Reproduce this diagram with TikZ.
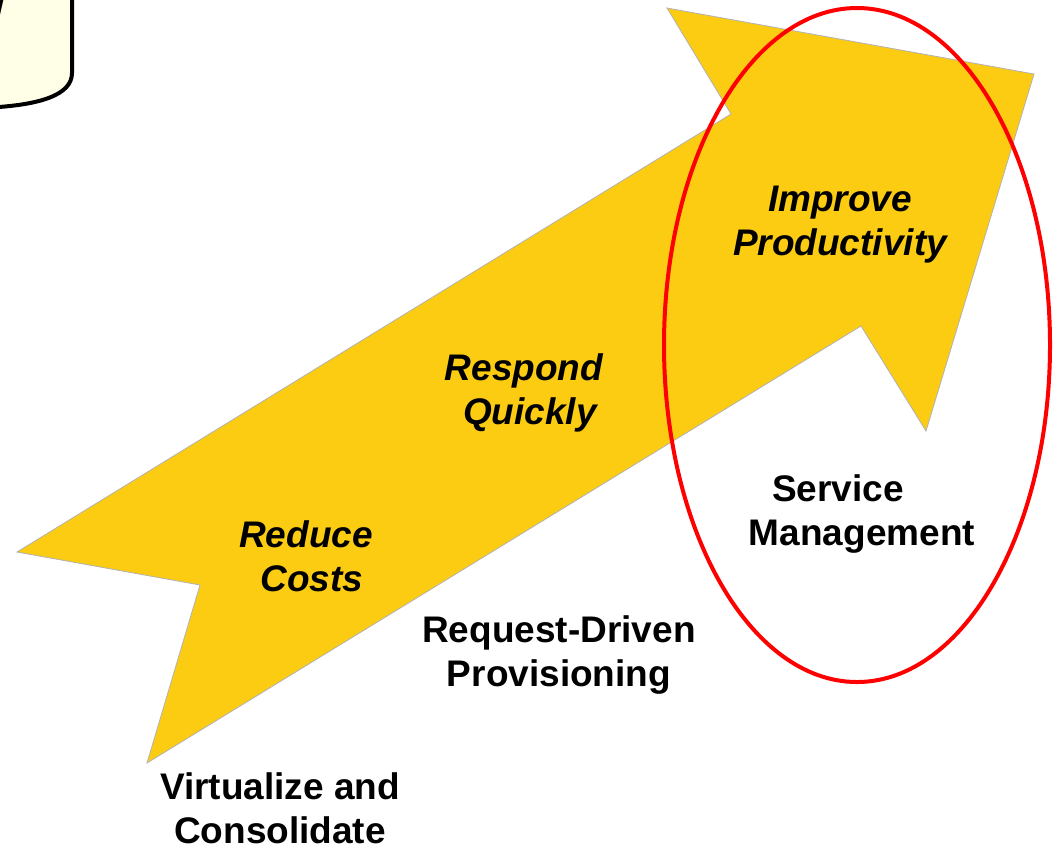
\documentclass[tikz,border=0pt]{standalone}
\usepackage{fontspec}
\setmainfont{Liberation Sans}
\usepackage{tikz}
\usetikzlibrary{shapes}
\definecolor{arrowgold}{RGB}{252,204,18}
\definecolor{notecream}{RGB}{255,255,232}

\begin{document}
\begin{tikzpicture}[x=0.5pt,y=-0.5pt]
  \tikzstyle{goal}=[font=\fontsize{18.5}{22}\selectfont\bfseries\itshape,align=center]
  \tikzstyle{stage}=[font=\fontsize{18.5}{22}\selectfont\bfseries,align=center]
  \useasboundingbox (0,0) rectangle (1053,843);
  \clip (0,0) rectangle (1053,843);
  % note in the corner
  \draw[line width=2pt,fill=notecream] (-20,-20) -- (72,-20) -- (72,73)
    .. controls (72,95) and (40,106) .. (-20,108) -- cycle;
  \node[goal,anchor=base east,inner sep=0pt] (bang) at (5,24) {!};
  % big arrow
  \draw[arrowgold,fill=arrowgold,draw=gray!60,line width=0.4pt]
    (17,552) -- (731,114) -- (667,8) -- (1034,74) -- (926,431)
    -- (861,326) -- (147,763) -- (200,585) -- cycle;
  \draw[red,line width=2pt] (857,345) ellipse [x radius=193,y radius=337];
  \node[goal] (improve) at (840,225) {Improve\\Productivity};
  \node[goal] (respond) at (524,393) {Respond\\\hspace*{6pt}Quickly};
  \node[goal] (reduce) at (306,556) {Reduce\\\hspace*{6pt}Costs};
  \node[stage] (service) at (862,514) {Service\hspace*{24pt}\\Management};
  \node[stage] (request) at (559,655) {Request-Driven\\Provisioning};
  \node[stage] (virtual) at (280,808) {Virtualize and\\Consolidate};
\end{tikzpicture}
\end{document}
